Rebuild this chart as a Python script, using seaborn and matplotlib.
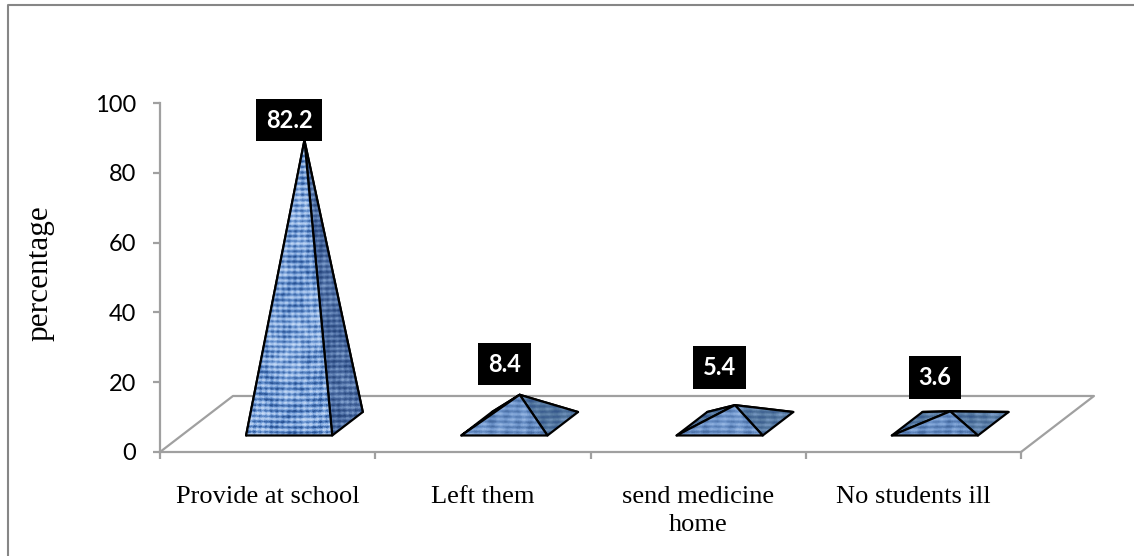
import numpy as np
import matplotlib
matplotlib.use("Agg")
import matplotlib.pyplot as plt
from matplotlib.colors import LinearSegmentedColormap
from matplotlib.lines import Line2D
from matplotlib.patches import Polygon
import seaborn as sns

categories = ["Provide at school", "Left them", "send medicine\nhome", "No students ill"]
values = [82.2, 8.4, 5.4, 3.6]
y_ticks = [0, 20, 40, 60, 80, 100]
y_title = "percentage"

W, H = 1134, 556
AX_L, AX_R, AX_T, AX_B = 160, 1021, 103, 452
AXIS_GREY = "#a0a0a0"
FRAME_GREY = "#868686"
# oblique projection of the chart floor, in data units
DEPTH_X, DEPTH_Y = 0.339, 16.05
BASE_FRONT, BASE_BACK = 0.295, 0.714
BASE_HALF = 0.2
HEIGHT_SCALE = 0.988
label_lift_px = [20, 30.5, 37.6, 34]

sns.set_theme(style="white")
plt.rcParams["font.family"] = ["Liberation Serif", "DejaVu Sans"]

fig = plt.figure(figsize=(W / 100, H / 100), dpi=100, facecolor="white")
ax = fig.add_axes([AX_L / W, 1 - AX_B / H, (AX_R - AX_L) / W, (AX_B - AX_T) / H])

sns.barplot(x=categories, y=values, ax=ax, color="#7ba0d8")
positions = [p.get_x() + p.get_width() / 2 for p in ax.patches]
for p in ax.patches:
    p.set_visible(False)


def weave(xpx, ypx, streak):
    """Deterministic cloth-like shading in 0..1 for a pixel grid."""
    xx, yy = np.meshgrid(xpx, ypx)
    warp = np.sin(2 * np.pi * xx / (6.1 * streak) + 0.7 * np.sin(yy / 23.0) + 1.1 * np.sin(xx / 13.7))
    weft = np.sin(2 * np.pi * yy / 5.3 + 0.6 * np.sin(xx / 19.0) + 1.2 * np.sin(yy / 17.3))
    fine = np.sin(xx * 1.9 + 2.0 * np.sin(yy * 0.83)) * np.sin(yy * 1.37 + 2.0 * np.sin(xx * 0.71))
    blot = np.sin(xx / 8.3 + 1.9 * np.sin(yy / 9.7)) * np.sin(yy / 6.9 + 1.3 * np.sin(xx / 5.9))
    return np.clip(0.46 + 0.12 * warp + 0.27 * weft + 0.13 * fine + 0.15 * blot, 0, 1)


bright = LinearSegmentedColormap.from_list("f", ["#234d90", "#5f8ccb", "#a4c2ec", "#cfe1f8"])
shade = LinearSegmentedColormap.from_list("s", ["#203f75", "#4d6ea5", "#88a7d2"])
flat = LinearSegmentedColormap.from_list("l", ["#44699f", "#6e95cc", "#9dbce6"])
flat_dark = LinearSegmentedColormap.from_list("d", ["#36588c", "#55799f", "#7f9fcb"])


def face(pts, cmap, z, streak=1.0):
    pts = np.asarray(pts)
    x0, x1 = pts[:, 0].min(), pts[:, 0].max()
    y0, y1 = pts[:, 1].min(), pts[:, 1].max()
    xpx = np.arange(x0 * 215.25, x1 * 215.25 + 1)
    ypx = np.arange(y0 * 3.49, y1 * 3.49 + 1)
    if len(xpx) < 2 or len(ypx) < 2:
        return
    im = ax.imshow(weave(xpx, ypx, streak), extent=(x0, x1, y0, y1), origin="lower",
                   aspect="auto", cmap=cmap, vmin=0, vmax=1,
                   interpolation="bilinear", zorder=z)
    poly = Polygon(pts, closed=True, fc="none", ec="black", lw=1.6,
                   joinstyle="round", zorder=z + 0.1)
    ax.add_patch(poly)
    im.set_clip_path(Polygon(pts, closed=True, transform=ax.transData))


for i, (c, v) in enumerate(zip(positions, values)):
    fy, by = BASE_FRONT * DEPTH_Y, BASE_BACK * DEPTH_Y
    fx, bx = c + BASE_FRONT * DEPTH_X, c + BASE_BACK * DEPTH_X
    FL, FR = (fx - BASE_HALF, fy), (fx + BASE_HALF, fy)
    BL, BR = (bx - BASE_HALF, by), (bx + BASE_HALF, by)
    apex = ((FL[0] + BR[0]) / 2, (fy + by) / 2 + v * HEIGHT_SCALE)
    tall = v > 20
    front_map, side_map = (bright, shade) if tall else (flat, flat_dark)
    streak = 1.0 if tall else 2.2
    base_z = 3 + i
    face([BL, BR, apex], side_map, base_z, streak)
    face([FL, BL, apex], side_map, base_z + 0.2, streak)
    face([FR, BR, apex], side_map, base_z + 0.4, streak)
    face([FL, FR, apex], front_map, base_z + 0.6, streak)
    ax.annotate(f"{v:.1f}", xy=(fx, apex[1]), xytext=(0, label_lift_px[i] * 0.72),
                textcoords="offset points", ha="center", va="center",
                color="white", fontsize=17, fontweight="bold", family="Lato",
                bbox=dict(boxstyle="square,pad=0.41", fc="black", ec="black", lw=0),
                zorder=10)

ax.set_xlim(-0.5, len(categories) - 0.5)
ax.set_ylim(0, 100)

# floor of the 3-D chart
left, right = ax.get_xlim()
floor_x = [left, left + DEPTH_X, right + DEPTH_X, right]
floor_y = [0, DEPTH_Y, DEPTH_Y, 0]
ax.add_line(Line2D(floor_x, floor_y, color=AXIS_GREY, lw=1.6, clip_on=False, zorder=2))

sns.despine(ax=ax)
for s in ("left", "bottom"):
    ax.spines[s].set_color(AXIS_GREY)
    ax.spines[s].set_linewidth(1.6)

ax.set_yticks(y_ticks)
ax.set_yticklabels([str(t) for t in y_ticks], family="Lato", fontsize=17, color="black")
ax.tick_params(axis="y", length=5, width=1.6, color=AXIS_GREY, pad=12, left=True)

ax.set_xticks(np.arange(left, right + 0.5, 1.0), [""] * (len(categories) + 1))
ax.set_xticks(positions, categories, minor=True)
ax.tick_params(axis="x", which="major", length=5, width=1.6, color=AXIS_GREY, bottom=True)
ax.tick_params(axis="x", which="minor", length=0, pad=24.3, labelsize=19, labelcolor="black")
for lab in ax.get_xticklabels(minor=True):
    lab.set_linespacing(1.36)

ax.set_ylabel(y_title, fontsize=22.5, color="black")
ax.yaxis.set_label_coords((54 - AX_L) / (AX_R - AX_L), 0.513)
ax.set_xlabel("")

# outer frame: only top and left edges are visible in the reference
fig.add_artist(Line2D([8 / W, 8 / W, 1], [0, 1 - 5 / H, 1 - 5 / H],
                      color=FRAME_GREY, lw=1.5, transform=fig.transFigure))

fig.savefig("out.png", dpi=100, facecolor="white")
